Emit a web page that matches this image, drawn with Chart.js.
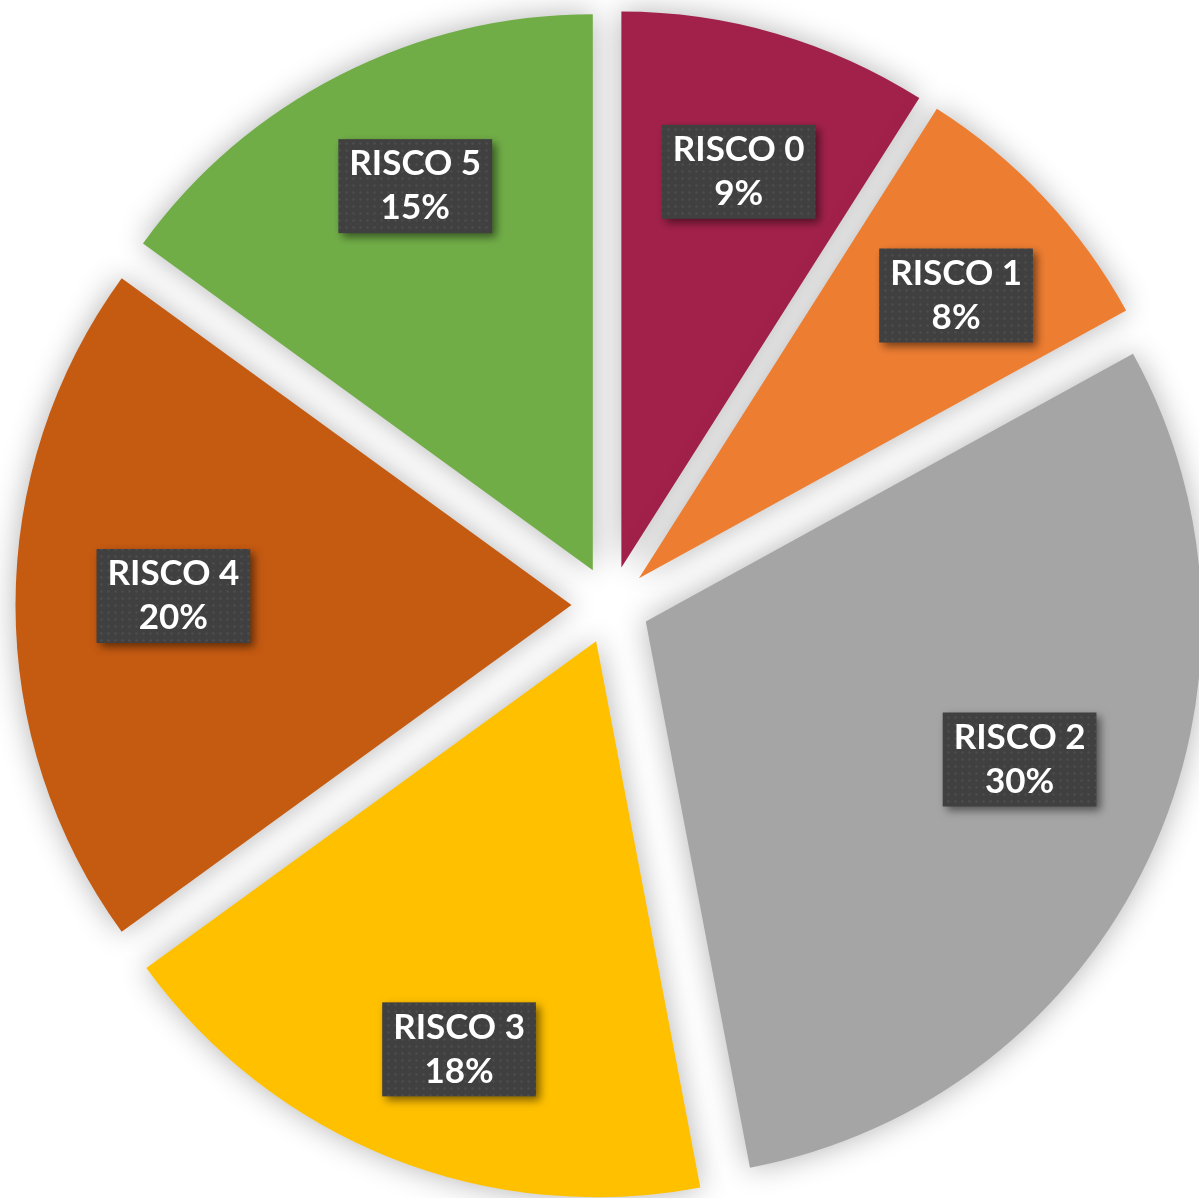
<!DOCTYPE html>
<html>
<head>
<meta charset="utf-8">
<script src="https://cdn.jsdelivr.net/npm/chart.js@4.4.1/dist/chart.umd.min.js"></script>
<style>
  html, body { margin: 0; padding: 0; background: #fff; overflow: hidden; }
  #wrap { width: 1199px; height: 1198px; }
</style>
</head>
<body>
<div id="wrap"><canvas id="risk-chart" width="1199" height="1198"></canvas></div>
<script>
const categories = ['RISCO 0', 'RISCO 1', 'RISCO 2', 'RISCO 3', 'RISCO 4', 'RISCO 5'];
const shares = [9, 8, 30, 18, 20, 15];
const sliceColors = ['#A2214B', '#ED7D31', '#A5A5A5', '#FFC000', '#C55A11', '#70AD47'];

const PULL = 39;          // every slice is pulled out from the centre by this much
const LABEL_DIST = 0.743; // label centre along the bisector, as a share of the radius
// small per-label nudges (px) so the boxes sit where they read best
const labelShift = [[2, 1], [16, 0], [0, -38], [15, 24], [15, -9], [10, -16]];

// dark grey label background with a faint dot grid
function makeBoxPattern(ctx) {
  const tile = document.createElement('canvas');
  tile.width = 7; tile.height = 7;
  const t = tile.getContext('2d');
  t.fillStyle = '#404040';
  t.fillRect(0, 0, 7, 7);
  t.fillStyle = 'rgba(255,255,255,0.07)';
  t.beginPath();
  t.arc(3.5, 3.5, 1.3, 0, Math.PI * 2);
  t.fill();
  return ctx.createPattern(tile, 'repeat');
}

// draw the arcs ourselves so each one can be shifted along its bisector with a soft shadow
const explodePlugin = {
  id: 'explode',
  beforeDatasetDraw(chart, args) {
    const ctx = chart.ctx;
    args.meta.data.forEach(arc => {
      const mid = (arc.startAngle + arc.endAngle) / 2;
      ctx.save();
      ctx.translate(Math.cos(mid) * PULL, Math.sin(mid) * PULL);
      ctx.shadowColor = 'rgba(0,0,0,0.3)';
      ctx.shadowBlur = 30;
      arc.draw(ctx);
      ctx.restore();
    });
    return false;
  }
};

const boxLabelPlugin = {
  id: 'boxLabels',
  afterDatasetsDraw(chart) {
    const ctx = chart.ctx;
    const meta = chart.getDatasetMeta(0);
    const total = shares.reduce((a, b) => a + b, 0);
    const pattern = makeBoxPattern(ctx);
    ctx.save();
    ctx.font = 'bold 35px Lato';
    meta.data.forEach((arc, i) => {
      const mid = (arc.startAngle + arc.endAngle) / 2;
      const dist = PULL + arc.outerRadius * LABEL_DIST;
      const cx = arc.x + Math.cos(mid) * dist + labelShift[i][0];
      const cy = arc.y + Math.sin(mid) * dist + labelShift[i][1];
      const line1 = categories[i];
      const line2 = Math.round(shares[i] / total * 100) + '%';
      const w = Math.max(ctx.measureText(line1).width, ctx.measureText(line2).width) + 22;
      const h = 94;

      ctx.save();
      ctx.shadowColor = 'rgba(0,0,0,0.5)';
      ctx.shadowBlur = 8;
      ctx.shadowOffsetX = 4;
      ctx.shadowOffsetY = 4;
      ctx.fillStyle = pattern;
      ctx.fillRect(cx - w / 2, cy - h / 2, w, h);
      ctx.restore();

      ctx.fillStyle = '#ffffff';
      ctx.textAlign = 'center';
      ctx.textBaseline = 'middle';
      ctx.fillText(line1, cx, cy - 22);
      ctx.fillText(line2, cx, cy + 22);
    });
    ctx.restore();
  }
};

new Chart(document.getElementById('risk-chart'), {
  type: 'pie',
  data: {
    labels: categories,
    datasets: [{
      data: shares,
      backgroundColor: sliceColors,
      borderWidth: 0
    }]
  },
  options: {
    responsive: false,
    animation: false,
    radius: 556,
    layout: { padding: { left: 22, top: 12, right: 0, bottom: 0 } },
    plugins: {
      legend: { display: false },
      tooltip: { enabled: false }
    }
  },
  plugins: [explodePlugin, boxLabelPlugin]
});
</script>
</body>
</html>
